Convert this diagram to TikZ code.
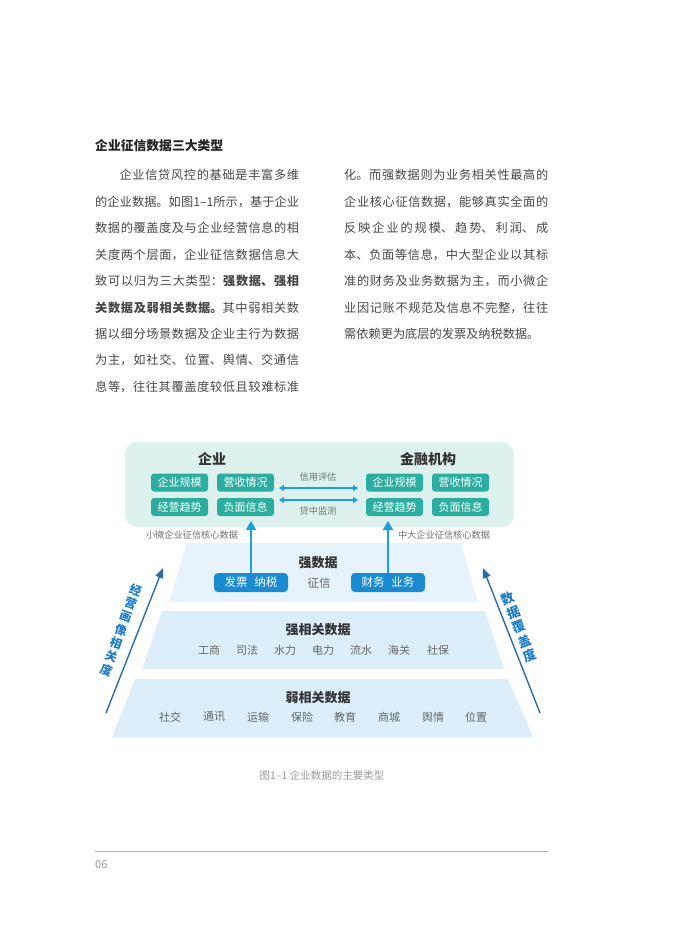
\documentclass[tikz,border=0pt]{standalone}
\usepackage{fontspec}
\setmainfont{Noto Sans CJK SC}
\usetikzlibrary{arrows.meta}
\XeTeXlinebreaklocale "zh"
\XeTeXlinebreakskip = 0pt plus 2pt minus 0.6pt
\definecolor{bodyc}{HTML}{474747}
\definecolor{headc}{HTML}{222222}
\definecolor{panelc}{HTML}{DDF2EF}
\definecolor{tealc}{HTML}{2BAE9F}
\definecolor{bluec}{HTML}{1A8BD0}
\definecolor{arrc}{HTML}{1BA0E0}
\definecolor{sidec}{HTML}{2C6DA8}
\definecolor{sidetc}{HTML}{1E7CC2}
\definecolor{tierA}{HTML}{E7F3FB}
\definecolor{tierB}{HTML}{DCEEF9}
\definecolor{titlec}{HTML}{333333}
\definecolor{itemc}{HTML}{666666}
\definecolor{labc}{HTML}{707070}
\definecolor{capc}{HTML}{9A9A9A}
\newcommand\jline[1]{\parfillskip=0pt\relax\parindent=0pt\relax\tolerance=9999\relax #1\par}
\tikzset{
  body/.style={anchor=west, inner sep=0pt, text width=204pt, align=justify,
    font=\fontsize{12.2}{14}\selectfont, text=bodyc},
  bodyplain/.style={anchor=west, inner sep=0pt, font=\fontsize{12.2}{14}\selectfont, text=bodyc},
  paneltitle/.style={font=\fontsize{14}{14}\selectfont\bfseries, text=titlec, inner sep=0pt},
  tealbox/.style={fill=tealc, rounded corners=3pt, text=white, minimum width=57pt,
    minimum height=18pt, inner sep=0pt, font=\fontsize{11}{11}\selectfont},
  bluebox/.style={fill=bluec, rounded corners=4pt, text=white, minimum width=74pt,
    minimum height=19pt, inner sep=0pt, font=\fontsize{11.5}{11.5}\selectfont},
  tiertitle/.style={font=\fontsize{13}{13}\selectfont\bfseries, text=titlec, inner sep=0pt},
  item/.style={font=\fontsize{11}{11}\selectfont, text=itemc, inner sep=0pt},
  smalllab/.style={font=\fontsize{9.2}{9.2}\selectfont, text=labc, inner sep=0pt},
  sidetext/.style={font=\fontsize{12}{14.2}\selectfont\bfseries, text=sidetc, align=center, inner sep=0pt},
  harrow/.style={arrc, line width=1.3pt, {Triangle[length=5pt,width=6pt]}-{Triangle[length=5pt,width=6pt]}},
  varrow/.style={arrc, line width=2pt, -{Triangle[length=9pt,width=10pt]}},
  sidearrow/.style={sidec, line width=1.4pt, -{Triangle[length=10pt,width=8pt]}},
}
\begin{document}
\begin{tikzpicture}[x=1pt,y=-1pt]
\useasboundingbox (0,0) rectangle (699,944);
\fill[white] (0,0) rectangle (699,944);

% heading
\node[anchor=west, inner sep=0pt, font=\fontsize{12.8}{14}\selectfont\bfseries, text=headc] (head) at (95,146) {企业征信数据三大类型};

% left column
\node[body] (l1) at (95,175) {\jline{\hspace*{2em}企业信贷风控的基础是丰富多维}};
\node[body] (l2) at (95,201.5) {\jline{的企业数据。如图1–1所示，基于企业}};
\node[body] (l3) at (95,228) {\jline{数据的覆盖度及与企业经营信息的相}};
\node[body] (l4) at (95,254.5) {\jline{关度两个层面，企业征信数据信息大}};
\node[body] (l5) at (95,281) {\jline{致可以归为三大类型：\textbf{强数据、强相}}};
\node[body] (l6) at (95,307.5) {\jline{\textbf{关数据及弱相关数据。}其中弱相关数}};
\node[body] (l7) at (95,334) {\jline{据以细分场景数据及企业主行为数据}};
\node[body] (l8) at (95,360) {\jline{为主，如社交、位置、舆情、交通信}};
\node[body] (l9) at (95,386.5) {\jline{息等，往往其覆盖度较低且较难标准}};

% right column
\node[body] (r1) at (344,175) {\jline{化。而强数据则为业务相关性最高的}};
\node[body] (r2) at (344,201.5) {\jline{企业核心征信数据，能够真实全面的}};
\node[body] (r3) at (344,228) {\jline{反映企业的规模、趋势、利润、成}};
\node[body] (r4) at (344,254.5) {\jline{本、负面等信息，中大型企业以其标}};
\node[body] (r5) at (344,281) {\jline{准的财务及业务数据为主，而小微企}};
\node[body] (r6) at (344,307.5) {\jline{业因记账不规范及信息不完整，往往}};
\node[bodyplain] (r7) at (344,334) {需依赖更为底层的发票及纳税数据。};

% top panel
\fill[panelc, rounded corners=12pt] (125,442) rectangle (514,527);
\node[paneltitle] (qy) at (212,459) {企业};
\node[paneltitle] (jr) at (428,459) {金融机构};
\node[tealbox] (lgm) at (179.5,482.5) {企业规模};
\node[tealbox] (lys) at (245.5,482.5) {营收情况};
\node[tealbox] (lqs) at (179.5,507) {经营趋势};
\node[tealbox] (lfm) at (245.5,507) {负面信息};
\node[tealbox] (rgm) at (394.5,482.5) {企业规模};
\node[tealbox] (rys) at (460.5,482.5) {营收情况};
\node[tealbox] (rqs) at (394.5,507) {经营趋势};
\node[tealbox] (rfm) at (460.5,507) {负面信息};
\node[smalllab] (xypg) at (318,477.5) {信用评估};
\node[smalllab] (dzjc) at (318,511) {贷中监测};
\coordinate (a1) at (279,488);
\coordinate (a2) at (358,488);
\coordinate (b1) at (279,500);
\coordinate (b2) at (358,500);
\draw[harrow] (a1) -- (a2);
\draw[harrow] (b1) -- (b2);
\node[smalllab] (xw) at (192,535) {小微企业征信核心数据};
\node[smalllab] (zd) at (444,535) {中大企业征信核心数据};

% pyramid tiers
\fill[tierA] (187,543) -- (461,543) -- (478,602) -- (169,602) -- cycle;
\fill[tierB] (162,611) -- (485,611) -- (504,669) -- (142,669) -- cycle;
\fill[tierB] (135,679) -- (508,679) -- (533,737) -- (112,737) -- cycle;

% tier 1
\node[tiertitle] (qsj) at (318,563) {强数据};
\node[bluebox] (fp) at (251,582.5) {发票\hspace{0.6em}纳税};
\node[item, font=\fontsize{11.5}{11.5}\selectfont] (zx) at (319,583) {征信};
\node[bluebox] (cw) at (388,582.5) {财务\hspace{0.6em}业务};
\coordinate (pl) at (251,521);
\coordinate (pr) at (388,521);
\draw[varrow] (fp.north) -- (pl);
\draw[varrow] (cw.north) -- (pr);

% tier 2
\node[tiertitle] (qxg) at (318,630) {强相关数据};
\node[item] (i21) at (209,650) {工商};
\node[item] (i22) at (247,650) {司法};
\node[item] (i23) at (285,650) {水力};
\node[item] (i24) at (323,650) {电力};
\node[item] (i25) at (361,650) {流水};
\node[item] (i26) at (399,650) {海关};
\node[item] (i27) at (438,650) {社保};

% tier 3
\node[tiertitle] (rxg) at (318,698) {弱相关数据};
\node[item] (i31) at (170,717) {社交};
\node[item] (i32) at (214,717) {通讯};
\node[item] (i33) at (258,717) {运输};
\node[item] (i34) at (302,717) {保险};
\node[item] (i35) at (345,717) {教育};
\node[item] (i36) at (389,717) {商城};
\node[item] (i37) at (433,717) {舆情};
\node[item] (i38) at (476,717) {位置};

% side arrows
\coordinate (sl1) at (106,713);
\coordinate (sl2) at (163,568);
\coordinate (sr1) at (540,713);
\coordinate (sr2) at (483,568);
\draw[sidearrow] (sl1) -- (sl2);
\draw[sidearrow] (sr1) -- (sr2);
\node[sidetext, rotate=-20] (lt) at (121,630) {经\\营\\画\\像\\相\\关\\度};
\node[sidetext, rotate=21, font=\fontsize{13}{15.5}\selectfont\bfseries] (rt) at (519,627) {数\\据\\覆\\盖\\度};

% caption and footer
\node[inner sep=0pt, font=\fontsize{10.5}{11}\selectfont, text=capc] (cap) at (322,775) {图1–1 企业数据的主要类型};
\coordinate (f1) at (95,851);
\coordinate (f2) at (548,851);
\draw[capc!80, line width=0.8pt] (f1) -- (f2);
\node[anchor=west, inner sep=0pt, font=\fontsize{11}{11}\selectfont, text=capc] (pg) at (95,865) {06};
\end{tikzpicture}
\end{document}
